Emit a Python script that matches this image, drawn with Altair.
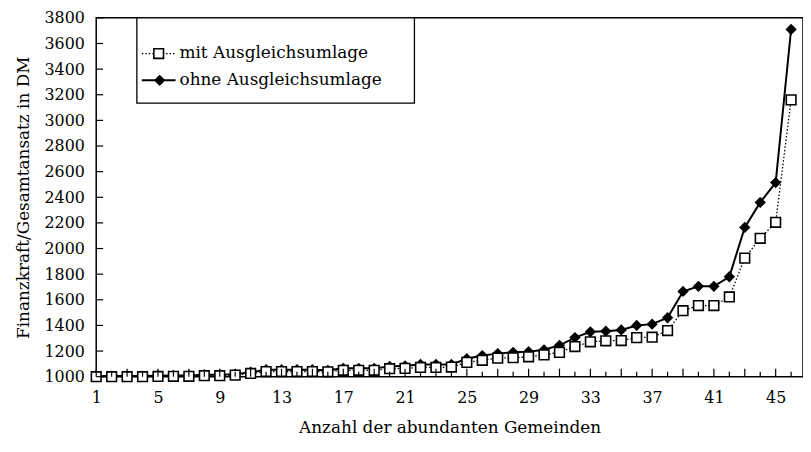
import altair as alt
import pandas as pd

# ---- data ----
gemeinden = list(range(1, 47))
mit_ausgleich = [1000, 1000, 1000, 1000, 1002, 1003, 1003, 1008, 1008, 1012,
                 1025, 1040, 1040, 1040, 1040, 1038, 1050, 1050, 1050, 1062,
                 1065, 1072, 1072, 1075, 1112, 1128, 1145, 1148, 1155, 1170,
                 1190, 1235, 1272, 1280, 1282, 1305, 1308, 1360, 1515, 1555,
                 1555, 1622, 1925, 2080, 2205, 3160]
ohne_ausgleich = [1005, 1005, 1005, 1005, 1008, 1010, 1010, 1015, 1015, 1020,
                  1035, 1055, 1055, 1055, 1055, 1050, 1065, 1065, 1065, 1080,
                  1085, 1095, 1095, 1095, 1140, 1165, 1180, 1190, 1195, 1210,
                  1245, 1305, 1350, 1355, 1365, 1400, 1410, 1460, 1665, 1705,
                  1705, 1780, 2165, 2360, 2515, 3710]
series_names = ["mit Ausgleichsumlage", "ohne Ausgleichsumlage"]
x_labels = [1, 5, 9, 13, 17, 21, 25, 29, 33, 37, 41, 45]
y_ticks = list(range(1000, 3801, 200))
x_title = "Anzahl der abundanten Gemeinden"
y_title = "Finanzkraft/Gesamtansatz in DM"

FONT = "DejaVu Serif"
W, H = 713, 362

df = pd.DataFrame({"x": gemeinden, "mit": mit_ausgleich, "ohne": ohne_ausgleich})

xscale = alt.Scale(domain=[1, 46.77], nice=False, zero=False)
yscale = alt.Scale(domain=[1000, 3800], nice=False, zero=False)

xaxis = alt.Axis(values=x_labels, tickSize=0, domain=False, grid=False,
                 labelFont=FONT, labelFontSize=16, labelColor="black",
                 labelPadding=13, labelOverlap=False, labelFlush=False,
                 title=x_title, titleFont=FONT, titleFontSize=17,
                 titleFontWeight="normal", titleColor="black", titlePadding=14)
yaxis = alt.Axis(values=y_ticks, tickSize=0, domain=False, grid=False,
                 labelFont=FONT, labelFontSize=16, labelColor="black",
                 labelPadding=12, labelOverlap=False, labelFlush=False,
                 title=y_title, titleFont=FONT, titleFontSize=17,
                 titleFontWeight="normal", titleColor="black",
                 titlePadding=12, format="d")


def X(field):
    return alt.X(field, scale=xscale, axis=xaxis)


def Y(field):
    return alt.Y(field, scale=yscale, axis=yaxis)


base = alt.Chart(df)

ohne_line = base.mark_line(color="black", strokeWidth=2).encode(
    x=X("x:Q"), y=Y("ohne:Q"))
mit_line = base.mark_line(color="black", strokeWidth=1.3, strokeDash=[1.5, 2]).encode(
    x=X("x:Q"), y=Y("mit:Q"))
ohne_pts = base.mark_point(shape="diamond", filled=True, color="black", size=130, opacity=1).encode(
    x=X("x:Q"), y=Y("ohne:Q"))
mit_pts = base.mark_point(shape="square", fill="white", stroke="black", strokeWidth=1.6,
                          size=95, opacity=1, fillOpacity=1).encode(
    x=X("x:Q"), y=Y("mit:Q"))

# inward tick marks
odd_df = pd.DataFrame({"x": [g for g in gemeinden if g % 2 == 1]})
even_df = pd.DataFrame({"x": [g for g in gemeinden if g % 2 == 0]})
xt_odd = alt.Chart(odd_df).mark_rule(color="black", strokeWidth=1.2).encode(
    x=X("x:Q"), y=alt.value(H), y2=alt.value(H - 8))
xt_even = alt.Chart(even_df).mark_rule(color="black", strokeWidth=1.2).encode(
    x=X("x:Q"), y=alt.value(H), y2=alt.value(H - 5))
yt = alt.Chart(pd.DataFrame({"ohne": y_ticks})).mark_rule(color="black", strokeWidth=1.2).encode(
    y=Y("ohne:Q"), x=alt.value(0), x2=alt.value(7))

# legend box
leg_df = pd.DataFrame({"label": series_names})
lx0, lx1, ly0, ly1 = 41, 321, 0, 86
leg_box = alt.Chart(leg_df.head(1)).mark_rect(fill="white", stroke="black", strokeWidth=1.3).encode(
    x=alt.value(lx0), x2=alt.value(lx1), y=alt.value(ly0), y2=alt.value(ly1))
r1, r2 = 36, 63
leg_l1 = alt.Chart(leg_df.head(1)).mark_rule(color="black", strokeWidth=1.3, strokeDash=[1.5, 2]).encode(
    x=alt.value(46), x2=alt.value(80), y=alt.value(r1))
leg_l2 = alt.Chart(leg_df.head(1)).mark_rule(color="black", strokeWidth=2).encode(
    x=alt.value(46), x2=alt.value(80), y=alt.value(r2))
leg_p1 = alt.Chart(leg_df.head(1)).mark_point(shape="square", fill="white", stroke="black",
                                                strokeWidth=1.6, size=95, opacity=1, fillOpacity=1).encode(
    x=alt.value(63), y=alt.value(r1))
leg_p2 = alt.Chart(leg_df.head(1)).mark_point(shape="diamond", filled=True, color="black",
                                                size=130, opacity=1).encode(
    x=alt.value(64), y=alt.value(r2))
leg_t1 = alt.Chart(leg_df.head(1)).mark_text(align="left", baseline="middle", font=FONT,
                                               fontSize=17, color="black").encode(
    x=alt.value(84), y=alt.value(r1), text="label:N")
leg_t2 = alt.Chart(leg_df.tail(1)).mark_text(align="left", baseline="middle", font=FONT,
                                              fontSize=17, color="black").encode(
    x=alt.value(84), y=alt.value(r2), text="label:N")

chart = alt.layer(
    ohne_line, mit_line, ohne_pts, mit_pts, xt_odd, xt_even, yt,
    leg_box, leg_l1, leg_l2, leg_p1, leg_p2, leg_t1, leg_t2
).properties(
    width=W, height=H,
    autosize=alt.AutoSizeParams(type="none"),
    padding={"left": 89, "top": 8, "right": 0, "bottom": 70},
    background="white"
).configure_view(stroke="black", strokeWidth=1.5)

chart.save("out.html", embed_options={"renderer": "svg", "actions": False})
